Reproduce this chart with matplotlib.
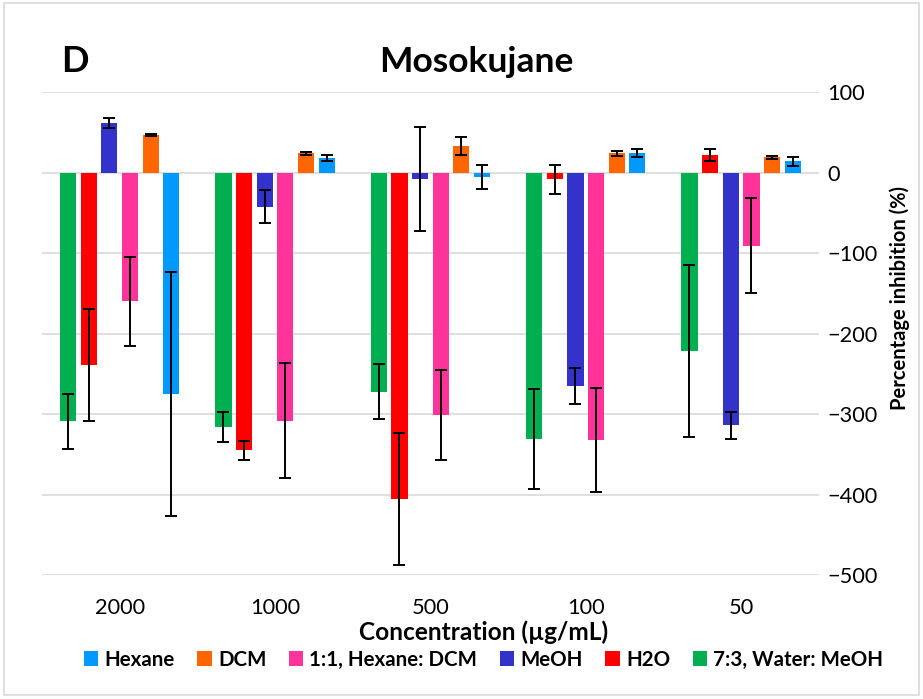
import matplotlib
matplotlib.use("Agg")
import matplotlib.pyplot as plt
import numpy as np
from matplotlib.patches import Rectangle

plt.rcParams["font.family"] = ["Lato", "DejaVu Sans"]

concentrations = ["2000", "1000", "500", "100", "50"]

# series in drawing order (left to right within each group)
series_names = ["7:3, Water: MeOH", "H2O", "MeOH", "1:1, Hexane: DCM", "DCM", "Hexane"]
series_colors = ["#00B050", "#FF0000", "#3333CC", "#FF3399", "#FF6600", "#0099FF"]

water_meoh = [-309, -316, -272, -331, -222]
water_meoh_err = [34, 19, 34, 62, 107]
h2o = [-239, -345, -405, -8, 22]
h2o_err = [70, 12, 82, 18, 7]
meoh = [62, -42, -8, -265, -314]
meoh_err = [6, 20, 65, 22, 17]
hex_dcm = [-160, -308, -301, -332, -91]
hex_dcm_err = [55, 72, 56, 65, 59]
dcm = [47, 24, 33, 24, 19]
dcm_err = [1, 1.5, 11, 3, 1.5]
hexane = [-275, 18, -5, 24, 14]
hexane_err = [152, 4, 15, 5, 6]

values = [water_meoh, h2o, meoh, hex_dcm, dcm, hexane]
errors = [water_meoh_err, h2o_err, meoh_err, hex_dcm_err, dcm_err, hexane_err]

fig = plt.figure(figsize=(9.23, 6.99), dpi=100)
ax = fig.add_axes([0.0455, 0.1774, 0.8415, 0.6906])

x = np.arange(len(concentrations))
step = 0.133
width = 0.105
bars = []
for i, (vals, errs, color, name) in enumerate(zip(values, errors, series_colors, series_names)):
    pos = x + (i - 2.5) * step
    b = ax.bar(pos, vals, width, color=color, label=name, zorder=2)
    ax.errorbar(pos, vals, yerr=errs, fmt="none", ecolor="black",
                elinewidth=1.4, capsize=4.5, capthick=1.4, zorder=3)
    bars.append(b)

ax.set_ylim(-500, 100)
ax.set_xlim(-0.5, len(concentrations) - 0.5)
ax.set_yticks(np.arange(-500, 101, 100))
ax.yaxis.tick_right()
ax.yaxis.set_label_position("right")
ax.grid(True, axis="y", color="#d9d9d9", linewidth=1.2, zorder=0)
ax.set_xticks(x)
ax.set_xticklabels(concentrations)
ax.tick_params(axis="both", length=0, labelsize=15.7, pad=6)
ax.tick_params(axis="x", pad=16.5)
for s in ax.spines.values():
    s.set_visible(False)

ax.set_ylabel("Percentage inhibition (%)", fontsize=14.5, fontweight="bold")
ax.yaxis.set_label_coords(1.091, 0.573)
ax.set_xlabel("Concentration (µg/mL)", fontsize=17.6, fontweight="bold")
ax.xaxis.set_label_coords(0.569, -0.094)

fig.text(0.516, 0.897, "Mosokujane", fontsize=25.5, fontweight="bold", ha="center", va="baseline")
fig.text(0.081, 0.897, "D", fontsize=26, fontweight="bold", ha="center", va="baseline")

# legend in reversed order
handles = bars[::-1]
labels = series_names[::-1]
fig.legend(handles, labels, loc="center", bbox_to_anchor=(0.524, 0.056), ncol=6,
           frameon=False, prop={"weight": "bold", "size": 14.8},
           handlelength=0.7, handleheight=0.7, handletextpad=0.3, columnspacing=1.1)

fig.patches.append(Rectangle((0.004, 0.006), 0.992, 0.99, transform=fig.transFigure,
                             fill=False, edgecolor="#d9d9d9", linewidth=1.2))

fig.savefig("out.png", dpi=100, facecolor="white")
